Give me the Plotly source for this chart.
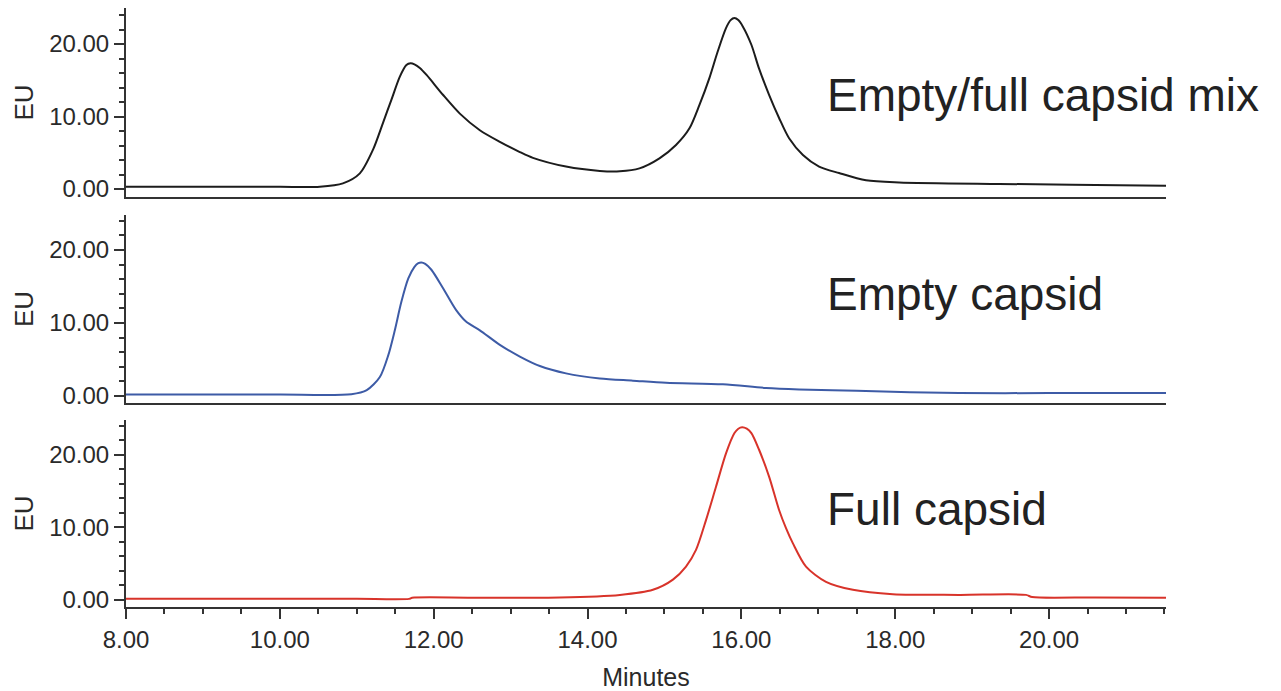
import plotly.graph_objects as go
from plotly.subplots import make_subplots

# ---- data ----
mix_t = [8.0, 9.0, 10.0, 10.52, 10.82, 11.04, 11.21, 11.34, 11.45, 11.56, 11.645, 11.70, 11.75,
         11.82, 11.91, 12.12, 12.34, 12.60, 12.86, 13.12, 13.29, 13.72, 14.16, 14.42, 14.675,
         14.935, 15.15, 15.325, 15.455, 15.584, 15.69, 15.80, 15.86, 15.91, 15.96, 16.02,
         16.13, 16.23, 16.36, 16.49, 16.62, 16.80, 17.01, 17.27, 17.62, 18.05, 19.35, 20.3,
         21.52]
mix_v = [0.3, 0.3, 0.3, 0.32, 0.78, 2.16, 5.4, 9.1, 12.3, 15.5, 17.1, 17.35, 17.2,
         16.7, 15.7, 13.0, 10.4, 8.1, 6.5, 5.1, 4.3, 3.1, 2.5, 2.45, 2.85,
         4.23, 6.07, 8.37, 11.6, 15.3, 18.9, 22.2, 23.3, 23.6, 23.3, 22.4,
         19.9, 16.6, 13.0, 9.8, 7.0, 4.7, 3.1, 2.2, 1.2, 0.9, 0.7, 0.6,
         0.45]

empty_t = [8.0, 9.0, 10.0, 10.93, 11.13, 11.30, 11.41, 11.49, 11.58, 11.67, 11.75, 11.80, 11.84,
           11.89, 11.97, 12.12, 12.29, 12.42, 12.60, 12.86, 13.12, 13.38, 13.72, 14.16, 14.59,
           15.02, 15.76, 16.32, 16.75, 17.5, 18.83, 20.0, 21.52]
empty_v = [0.2, 0.2, 0.2, 0.25, 0.8, 2.6, 5.6, 8.8, 12.9, 16.1, 17.7, 18.2, 18.3,
           18.1, 17.3, 14.8, 11.8, 10.2, 9.0, 7.0, 5.4, 4.1, 3.1, 2.4, 2.1,
           1.8, 1.6, 1.1, 0.9, 0.7, 0.4, 0.4, 0.4]

full_t = [8.0, 9.0, 10.0, 11.0, 11.68, 11.72, 12.5, 13.64, 14.42, 14.85, 15.11, 15.28, 15.41,
          15.54, 15.67, 15.80, 15.91, 15.96, 16.01, 16.07, 16.13, 16.23, 16.36, 16.49, 16.58,
          16.67, 16.84, 17.10, 17.45, 17.97, 18.83, 19.70, 19.78, 20.6, 21.52]
full_v = [0.15, 0.15, 0.15, 0.15, 0.15, 0.3, 0.32, 0.35, 0.7, 1.4, 2.8, 4.6, 6.9,
          11.0, 15.6, 20.2, 23.0, 23.6, 23.8, 23.6, 23.0, 20.7, 17.0, 12.4, 9.9,
          7.8, 4.6, 2.5, 1.4, 0.8, 0.7, 0.7, 0.4, 0.35, 0.3]

labels = ["Empty/full capsid mix", "Empty capsid", "Full capsid"]
colors = ["#1c1c1c", "#3d5ba6", "#d8332a"]
y_ticks = [0, 10, 20]
y_tick_text = ["0.00", "10.00", "20.00"]
x_ticks = [8, 10, 12, 14, 16, 18, 20]
x_tick_text = ["8.00", "10.00", "12.00", "14.00", "16.00", "18.00", "20.00"]

series = [(mix_t, mix_v), (empty_t, empty_v), (full_t, full_v)]

FONT = "Liberation Sans, Arial, sans-serif"
AX = "#333333"
TXT = "#2a2a2a"

fig = make_subplots(rows=3, cols=1, shared_xaxes=True, vertical_spacing=0.03)

for i, ((t, v), c) in enumerate(zip(series, colors)):
    fig.add_trace(go.Scatter(x=t, y=v, mode="lines",
                             line=dict(color=c, width=2, shape="spline", smoothing=0.8),
                             showlegend=False, hoverinfo="skip"), row=i + 1, col=1)

# domains (paper fractions) matching the reference panel layout
domains = [[0.6845, 1.0], [0.3406, 0.6544], [0.0, 0.3122]]
yranges = [[-1.1, 24.97], [-0.96, 24.8], [-0.97, 24.8]]

for i in range(3):
    yname = "yaxis" if i == 0 else f"yaxis{i+1}"
    xname = "xaxis" if i == 0 else f"xaxis{i+1}"
    fig.layout[yname].update(
        domain=domains[i], range=yranges[i], tickvals=y_ticks, ticktext=y_tick_text,
        showline=True, linecolor=AX, linewidth=2, ticks="outside", ticklen=10,
        tickwidth=2, tickcolor=AX, showgrid=False, zeroline=False,
        minor=dict(tickmode="linear", tick0=0, dtick=2, ticks="outside", ticklen=5,
                   tickwidth=1.5, tickcolor=AX, showgrid=False),
        tickfont=dict(family=FONT, size=24, color=TXT),
        title=dict(text="EU", font=dict(family=FONT, size=26, color=TXT), standoff=8),
        automargin=False, fixedrange=True)
    is_bottom = (i == 2)
    fig.layout[xname].update(
        range=[8, 21.52], showline=True, linecolor=AX, linewidth=2, showgrid=False,
        zeroline=False, automargin=False, fixedrange=True,
        ticks="outside" if is_bottom else "",
        tickvals=x_ticks, ticktext=x_tick_text, showticklabels=is_bottom,
        ticklen=10, tickwidth=2, tickcolor=AX,
        tickfont=dict(family=FONT, size=24, color=TXT),
        minor=dict(tickmode="linear", tick0=8, dtick=0.5, ticks="outside" if is_bottom else "",
                   ticklen=5, tickwidth=1.5, tickcolor=AX, showgrid=False))

fig.layout.xaxis3.title = dict(text="Minutes", font=dict(family=FONT, size=25, color=TXT),
                               standoff=17)

# series labels
label_y = [0.8555, 0.5230, 0.1643]
for txt, yy in zip(labels, label_y):
    fig.add_annotation(text=txt, xref="paper", yref="paper", x=0.672, y=yy,
                       xanchor="left", yanchor="middle", showarrow=False,
                       font=dict(family=FONT, size=46, color="#222222"))

fig.update_layout(width=1281, height=691, plot_bgcolor="white", paper_bgcolor="white",
                  margin=dict(l=118, r=123, t=0, b=92), showlegend=False)

fig.write_html("out.html")
